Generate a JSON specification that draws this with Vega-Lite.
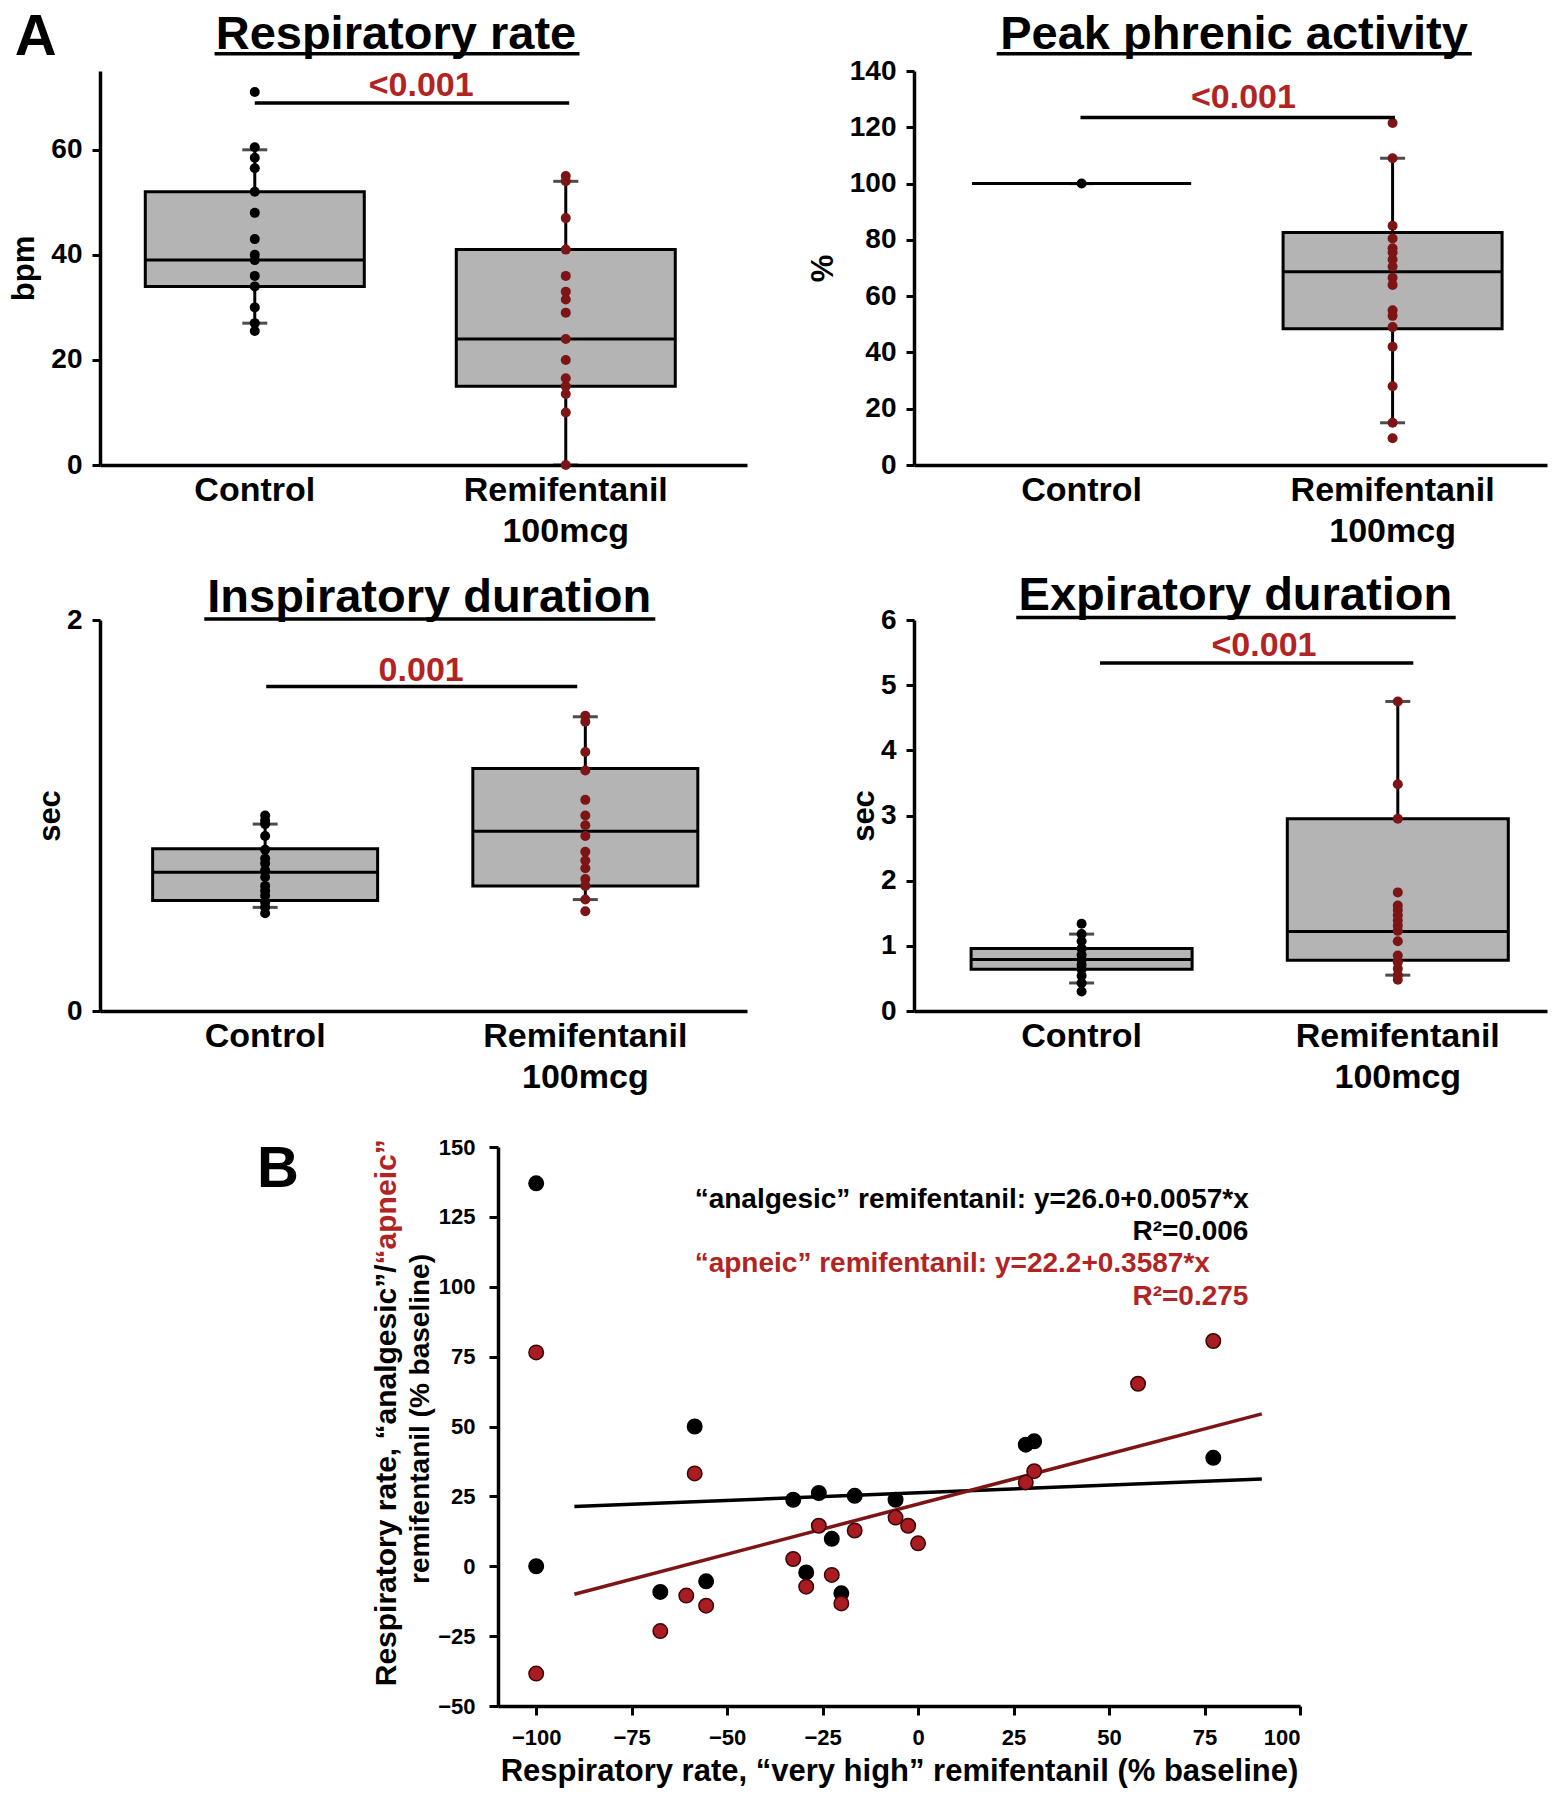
{
  "$schema": "https://vega.github.io/schema/vega-lite/v6.json",
  "background": "white",
  "padding": {"left": 8, "top": 8, "right": 5, "bottom": 5},
  "datasets": {
    "boxes": [
      {"panel": "rr", "group": "Control", "lo": 27, "q1": 34, "med": 39, "q3": 52, "hi": 60},
      {"panel": "rr", "group": "Remifentanil 100mcg", "lo": 0, "q1": 15, "med": 24, "q3": 41, "hi": 54},
      {"panel": "pp", "group": "Control", "lo": 100, "q1": 100, "med": 100, "q3": 100, "hi": 100},
      {"panel": "pp", "group": "Remifentanil 100mcg", "lo": 15, "q1": 48.4, "med": 68.7, "q3": 82.6, "hi": 109},
      {"panel": "ti", "group": "Control", "lo": 0.53, "q1": 0.565, "med": 0.71, "q3": 0.83, "hi": 0.956},
      {"panel": "ti", "group": "Remifentanil 100mcg", "lo": 0.57, "q1": 0.64, "med": 0.92, "q3": 1.24, "hi": 1.505},
      {"panel": "te", "group": "Control", "lo": 0.43, "q1": 0.64, "med": 0.79, "q3": 0.96, "hi": 1.18},
      {"panel": "te", "group": "Remifentanil 100mcg", "lo": 0.55, "q1": 0.78, "med": 1.22, "q3": 2.95, "hi": 4.75}
    ],
    "pts": [
      {"panel": "rr", "group": "Control", "value": 71},
      {"panel": "rr", "group": "Control", "value": 60.5},
      {"panel": "rr", "group": "Control", "value": 58.5},
      {"panel": "rr", "group": "Control", "value": 56.5},
      {"panel": "rr", "group": "Control", "value": 52},
      {"panel": "rr", "group": "Control", "value": 48},
      {"panel": "rr", "group": "Control", "value": 43},
      {"panel": "rr", "group": "Control", "value": 40},
      {"panel": "rr", "group": "Control", "value": 39},
      {"panel": "rr", "group": "Control", "value": 36},
      {"panel": "rr", "group": "Control", "value": 34},
      {"panel": "rr", "group": "Control", "value": 30},
      {"panel": "rr", "group": "Control", "value": 27},
      {"panel": "rr", "group": "Control", "value": 25.5},
      {"panel": "rr", "group": "Remifentanil 100mcg", "value": 55},
      {"panel": "rr", "group": "Remifentanil 100mcg", "value": 54},
      {"panel": "rr", "group": "Remifentanil 100mcg", "value": 47},
      {"panel": "rr", "group": "Remifentanil 100mcg", "value": 41},
      {"panel": "rr", "group": "Remifentanil 100mcg", "value": 36},
      {"panel": "rr", "group": "Remifentanil 100mcg", "value": 33},
      {"panel": "rr", "group": "Remifentanil 100mcg", "value": 31.5},
      {"panel": "rr", "group": "Remifentanil 100mcg", "value": 29},
      {"panel": "rr", "group": "Remifentanil 100mcg", "value": 24},
      {"panel": "rr", "group": "Remifentanil 100mcg", "value": 20},
      {"panel": "rr", "group": "Remifentanil 100mcg", "value": 16.5},
      {"panel": "rr", "group": "Remifentanil 100mcg", "value": 15},
      {"panel": "rr", "group": "Remifentanil 100mcg", "value": 13.5},
      {"panel": "rr", "group": "Remifentanil 100mcg", "value": 10},
      {"panel": "rr", "group": "Remifentanil 100mcg", "value": 0},
      {"panel": "pp", "group": "Control", "value": 100},
      {"panel": "pp", "group": "Remifentanil 100mcg", "value": 121.5},
      {"panel": "pp", "group": "Remifentanil 100mcg", "value": 109},
      {"panel": "pp", "group": "Remifentanil 100mcg", "value": 85},
      {"panel": "pp", "group": "Remifentanil 100mcg", "value": 80.5},
      {"panel": "pp", "group": "Remifentanil 100mcg", "value": 77},
      {"panel": "pp", "group": "Remifentanil 100mcg", "value": 75.5},
      {"panel": "pp", "group": "Remifentanil 100mcg", "value": 73},
      {"panel": "pp", "group": "Remifentanil 100mcg", "value": 70.5},
      {"panel": "pp", "group": "Remifentanil 100mcg", "value": 66.5},
      {"panel": "pp", "group": "Remifentanil 100mcg", "value": 64},
      {"panel": "pp", "group": "Remifentanil 100mcg", "value": 55},
      {"panel": "pp", "group": "Remifentanil 100mcg", "value": 53},
      {"panel": "pp", "group": "Remifentanil 100mcg", "value": 49},
      {"panel": "pp", "group": "Remifentanil 100mcg", "value": 42},
      {"panel": "pp", "group": "Remifentanil 100mcg", "value": 28},
      {"panel": "pp", "group": "Remifentanil 100mcg", "value": 15},
      {"panel": "pp", "group": "Remifentanil 100mcg", "value": 9.5},
      {"panel": "ti", "group": "Control", "value": 1.0},
      {"panel": "ti", "group": "Control", "value": 0.975},
      {"panel": "ti", "group": "Control", "value": 0.956},
      {"panel": "ti", "group": "Control", "value": 0.895},
      {"panel": "ti", "group": "Control", "value": 0.825},
      {"panel": "ti", "group": "Control", "value": 0.78},
      {"panel": "ti", "group": "Control", "value": 0.755},
      {"panel": "ti", "group": "Control", "value": 0.72},
      {"panel": "ti", "group": "Control", "value": 0.685},
      {"panel": "ti", "group": "Control", "value": 0.64},
      {"panel": "ti", "group": "Control", "value": 0.615},
      {"panel": "ti", "group": "Control", "value": 0.59},
      {"panel": "ti", "group": "Control", "value": 0.555},
      {"panel": "ti", "group": "Control", "value": 0.53},
      {"panel": "ti", "group": "Control", "value": 0.5},
      {"panel": "ti", "group": "Remifentanil 100mcg", "value": 1.51},
      {"panel": "ti", "group": "Remifentanil 100mcg", "value": 1.48},
      {"panel": "ti", "group": "Remifentanil 100mcg", "value": 1.325},
      {"panel": "ti", "group": "Remifentanil 100mcg", "value": 1.23},
      {"panel": "ti", "group": "Remifentanil 100mcg", "value": 1.08},
      {"panel": "ti", "group": "Remifentanil 100mcg", "value": 1.0},
      {"panel": "ti", "group": "Remifentanil 100mcg", "value": 0.95},
      {"panel": "ti", "group": "Remifentanil 100mcg", "value": 0.895},
      {"panel": "ti", "group": "Remifentanil 100mcg", "value": 0.815},
      {"panel": "ti", "group": "Remifentanil 100mcg", "value": 0.77},
      {"panel": "ti", "group": "Remifentanil 100mcg", "value": 0.73},
      {"panel": "ti", "group": "Remifentanil 100mcg", "value": 0.675},
      {"panel": "ti", "group": "Remifentanil 100mcg", "value": 0.64},
      {"panel": "ti", "group": "Remifentanil 100mcg", "value": 0.57},
      {"panel": "ti", "group": "Remifentanil 100mcg", "value": 0.51},
      {"panel": "te", "group": "Control", "value": 1.34},
      {"panel": "te", "group": "Control", "value": 1.18},
      {"panel": "te", "group": "Control", "value": 1.07},
      {"panel": "te", "group": "Control", "value": 0.96},
      {"panel": "te", "group": "Control", "value": 0.86},
      {"panel": "te", "group": "Control", "value": 0.79},
      {"panel": "te", "group": "Control", "value": 0.71},
      {"panel": "te", "group": "Control", "value": 0.64},
      {"panel": "te", "group": "Control", "value": 0.54},
      {"panel": "te", "group": "Control", "value": 0.43},
      {"panel": "te", "group": "Control", "value": 0.3},
      {"panel": "te", "group": "Remifentanil 100mcg", "value": 4.75},
      {"panel": "te", "group": "Remifentanil 100mcg", "value": 3.48},
      {"panel": "te", "group": "Remifentanil 100mcg", "value": 2.95},
      {"panel": "te", "group": "Remifentanil 100mcg", "value": 1.82},
      {"panel": "te", "group": "Remifentanil 100mcg", "value": 1.62},
      {"panel": "te", "group": "Remifentanil 100mcg", "value": 1.55},
      {"panel": "te", "group": "Remifentanil 100mcg", "value": 1.47},
      {"panel": "te", "group": "Remifentanil 100mcg", "value": 1.39},
      {"panel": "te", "group": "Remifentanil 100mcg", "value": 1.31},
      {"panel": "te", "group": "Remifentanil 100mcg", "value": 1.23},
      {"panel": "te", "group": "Remifentanil 100mcg", "value": 1.07},
      {"panel": "te", "group": "Remifentanil 100mcg", "value": 0.85},
      {"panel": "te", "group": "Remifentanil 100mcg", "value": 0.75},
      {"panel": "te", "group": "Remifentanil 100mcg", "value": 0.65},
      {"panel": "te", "group": "Remifentanil 100mcg", "value": 0.55},
      {"panel": "te", "group": "Remifentanil 100mcg", "value": 0.48}
    ],
    "scatter": [
      {"cond": "analgesic", "vh": -100, "y": 137},
      {"cond": "analgesic", "vh": -100, "y": 0},
      {"cond": "analgesic", "vh": -58.5, "y": 50},
      {"cond": "analgesic", "vh": -67.5, "y": -9.2},
      {"cond": "analgesic", "vh": -55.5, "y": -5.4},
      {"cond": "analgesic", "vh": -32.7, "y": 23.8},
      {"cond": "analgesic", "vh": -26, "y": 26.2},
      {"cond": "analgesic", "vh": -16.6, "y": 25.2},
      {"cond": "analgesic", "vh": -5.9, "y": 23.8},
      {"cond": "analgesic", "vh": -29.3, "y": -2.2},
      {"cond": "analgesic", "vh": -22.6, "y": 9.8},
      {"cond": "analgesic", "vh": -20.1, "y": -9.7},
      {"cond": "analgesic", "vh": 28.2, "y": 43.5},
      {"cond": "analgesic", "vh": 30.4, "y": 44.7},
      {"cond": "analgesic", "vh": 77.3, "y": 38.8},
      {"cond": "apneic", "vh": -100, "y": 76.5},
      {"cond": "apneic", "vh": -100, "y": -38.4},
      {"cond": "apneic", "vh": -58.5, "y": 33.2},
      {"cond": "apneic", "vh": -67.5, "y": -23.2},
      {"cond": "apneic", "vh": -60.7, "y": -10.5},
      {"cond": "apneic", "vh": -55.5, "y": -14.1},
      {"cond": "apneic", "vh": -32.7, "y": 2.6},
      {"cond": "apneic", "vh": -29.3, "y": -7.3},
      {"cond": "apneic", "vh": -26, "y": 14.5},
      {"cond": "apneic", "vh": -22.6, "y": -3.1},
      {"cond": "apneic", "vh": -20.1, "y": -13.3},
      {"cond": "apneic", "vh": -16.6, "y": 12.8},
      {"cond": "apneic", "vh": -5.9, "y": 17.4},
      {"cond": "apneic", "vh": -2.6, "y": 14.5},
      {"cond": "apneic", "vh": 0, "y": 8.2},
      {"cond": "apneic", "vh": 28.2, "y": 30},
      {"cond": "apneic", "vh": 30.4, "y": 34},
      {"cond": "apneic", "vh": 57.6, "y": 65.3},
      {"cond": "apneic", "vh": 77.3, "y": 80.6}
    ],
    "reg": [
      {"cond": "analgesic", "vh": -90, "y": 21.4},
      {"cond": "analgesic", "vh": 90, "y": 31.2},
      {"cond": "apneic", "vh": -90, "y": -10},
      {"cond": "apneic", "vh": 90, "y": 54.5}
    ]
  },
  "vconcat": [
    {
      "columns": 2,
      "spacing": {"row": 24, "column": 60},
      "concat": [
        {
          "width": 647, "height": 394,
          "resolve": {"scale": {"x": "independent"}},
          "layer": [
            {
              "data": {"name": "boxes"},
              "transform": [{"filter": "datum.panel == 'rr'"}],
              "layer": [
                {"mark": {"type": "rule", "strokeWidth": 3, "color": "#000"},
                 "encoding": {
                   "x": {"field": "group", "type": "nominal", "scale": {"domain": ["Control", "Remifentanil 100mcg"], "paddingInner": 0.2958, "paddingOuter": 0.1881, "align": 0.387},
                         "axis": {"title": null, "ticks": false, "domainWidth": 3.5, "labelFontSize": 34, "labelPadding": 8, "labelLineHeight": 41, "labelAngle": 0, "labelLimit": 500, "labelExpr": "split(datum.label, ' ')"}},
                   "y": {"field": "lo", "type": "quantitative", "scale": {"domain": [0, 75], "nice": false},
                         "axis": {"title": "bpm", "values": [0, 20, 40, 60], "titleFontSize": 31, "titlePadding": 10, "labelFontSize": 28, "labelPadding": 10, "tickSize": 8, "tickWidth": 3, "domainWidth": 3.5}},
                   "y2": {"field": "hi"}}},
                {"mark": {"type": "bar", "fill": "#b4b4b4", "stroke": "#000", "strokeWidth": 3},
                 "encoding": {"x": {"field": "group", "type": "nominal"}, "y": {"field": "q1", "type": "quantitative"}, "y2": {"field": "q3"}}},
                {"mark": {"type": "bar", "fill": "transparent", "stroke": "#000", "strokeWidth": 3},
                 "encoding": {"x": {"field": "group", "type": "nominal"}, "y": {"field": "med", "type": "quantitative"}, "y2": {"field": "med"}}},
                {"mark": {"type": "tick", "size": 25, "thickness": 3, "color": "#000"},
                 "encoding": {"x": {"field": "group", "type": "nominal"}, "y": {"field": "lo", "type": "quantitative"}}},
                {"mark": {"type": "tick", "size": 25, "thickness": 3, "color": "#000"},
                 "encoding": {"x": {"field": "group", "type": "nominal"}, "y": {"field": "hi", "type": "quantitative"}}},
                {"data": {"name": "pts"}, "transform": [{"filter": "datum.panel == 'rr'"}],
                 "mark": {"type": "circle", "size": 100, "opacity": 1},
                 "encoding": {"x": {"field": "group", "type": "nominal"}, "y": {"field": "value", "type": "quantitative"},
                   "color": {"field": "group", "type": "nominal", "scale": {"domain": ["Control", "Remifentanil 100mcg"], "range": ["#000000", "#7d1416"]}, "legend": null}}}
              ]
            },
            {"data": {"values": [{}]}, "mark": {"type": "text", "text": "A", "fontSize": 58, "fontWeight": "bold", "align": "center", "baseline": "alphabetic", "color": "#000"},
             "encoding": {"x": {"datum": -0.0995, "type": "quantitative", "scale": {"domain": [0, 1]}, "axis": null}, "y": {"datum": 78.05, "type": "quantitative"}}},
            {"data": {"values": [{}]}, "mark": {"type": "text", "text": "Respiratory rate", "fontSize": 47, "fontWeight": "bold", "align": "center", "baseline": "alphabetic", "color": "#000"},
             "encoding": {"x": {"datum": 0.4574, "type": "quantitative", "scale": {"domain": [0, 1]}, "axis": null}, "y": {"datum": 79.15, "type": "quantitative"}}},
            {"data": {"values": [{}]}, "mark": {"type": "rule", "strokeWidth": 3.5, "color": "#000"},
             "encoding": {"x": {"datum": 0.1771, "type": "quantitative", "scale": {"domain": [0, 1]}, "axis": null}, "x2": {"datum": 0.7411}, "y": {"datum": 78.27, "type": "quantitative"}}},
            {"data": {"values": [{}]}, "mark": {"type": "rule", "strokeWidth": 3.5, "color": "#000"},
             "encoding": {"x": {"datum": 0.2392, "type": "quantitative", "scale": {"domain": [0, 1]}, "axis": null}, "x2": {"datum": 0.7252}, "y": {"datum": 68.9, "type": "quantitative"}}},
            {"data": {"values": [{}]}, "mark": {"type": "text", "text": "<0.001", "fontSize": 34, "fontWeight": "bold", "align": "center", "baseline": "alphabetic", "color": "#b22424"},
             "encoding": {"x": {"datum": 0.4964, "type": "quantitative", "scale": {"domain": [0, 1]}, "axis": null}, "y": {"datum": 70.3, "type": "quantitative"}}}
          ]
        },
        {
          "width": 633, "height": 394,
          "resolve": {"scale": {"x": "independent"}},
          "layer": [
            {
              "data": {"name": "boxes"},
              "transform": [{"filter": "datum.panel == 'pp'"}],
              "layer": [
                {"mark": {"type": "rule", "strokeWidth": 3, "color": "#000"},
                 "encoding": {
                   "x": {"field": "group", "type": "nominal", "scale": {"domain": ["Control", "Remifentanil 100mcg"], "paddingInner": 0.2958, "paddingOuter": 0.1656, "align": 0.564},
                         "axis": {"title": null, "ticks": false, "domainWidth": 3.5, "labelFontSize": 34, "labelPadding": 8, "labelLineHeight": 41, "labelAngle": 0, "labelLimit": 500, "labelExpr": "split(datum.label, ' ')"}},
                   "y": {"field": "lo", "type": "quantitative", "scale": {"domain": [0, 140], "nice": false},
                         "axis": {"title": "%", "values": [0, 20, 40, 60, 80, 100, 120, 140], "titleFontSize": 31, "titlePadding": 10, "labelFontSize": 28, "labelPadding": 10, "tickSize": 8, "tickWidth": 3, "domainWidth": 3.5}},
                   "y2": {"field": "hi"}}},
                {"mark": {"type": "bar", "fill": "#b4b4b4", "stroke": "#000", "strokeWidth": 3},
                 "encoding": {"x": {"field": "group", "type": "nominal"}, "y": {"field": "q1", "type": "quantitative"}, "y2": {"field": "q3"}}},
                {"mark": {"type": "bar", "fill": "transparent", "stroke": "#000", "strokeWidth": 3},
                 "encoding": {"x": {"field": "group", "type": "nominal"}, "y": {"field": "med", "type": "quantitative"}, "y2": {"field": "med"}}},
                {"mark": {"type": "tick", "size": 25, "thickness": 3, "color": "#000"},
                 "encoding": {"x": {"field": "group", "type": "nominal"}, "y": {"field": "lo", "type": "quantitative"}}},
                {"mark": {"type": "tick", "size": 25, "thickness": 3, "color": "#000"},
                 "encoding": {"x": {"field": "group", "type": "nominal"}, "y": {"field": "hi", "type": "quantitative"}}},
                {"data": {"name": "pts"}, "transform": [{"filter": "datum.panel == 'pp'"}],
                 "mark": {"type": "circle", "size": 100, "opacity": 1},
                 "encoding": {"x": {"field": "group", "type": "nominal"}, "y": {"field": "value", "type": "quantitative"},
                   "color": {"field": "group", "type": "nominal", "scale": {"domain": ["Control", "Remifentanil 100mcg"], "range": ["#000000", "#7d1416"]}, "legend": null}}}
              ]
            },
            {"data": {"values": [{}]}, "mark": {"type": "text", "text": "Peak phrenic activity", "fontSize": 47, "fontWeight": "bold", "align": "center", "baseline": "alphabetic", "color": "#000"},
             "encoding": {"x": {"datum": 0.5055, "type": "quantitative", "scale": {"domain": [0, 1]}, "axis": null}, "y": {"datum": 147.75, "type": "quantitative"}}},
            {"data": {"values": [{}]}, "mark": {"type": "rule", "strokeWidth": 3.5, "color": "#000"},
             "encoding": {"x": {"datum": 0.1306, "type": "quantitative", "scale": {"domain": [0, 1]}, "axis": null}, "x2": {"datum": 0.8812}, "y": {"datum": 146.1, "type": "quantitative"}}},
            {"data": {"values": [{}]}, "mark": {"type": "rule", "strokeWidth": 3.5, "color": "#000"},
             "encoding": {"x": {"datum": 0.263, "type": "quantitative", "scale": {"domain": [0, 1]}, "axis": null}, "x2": {"datum": 0.7597}, "y": {"datum": 123.5, "type": "quantitative"}}},
            {"data": {"values": [{}]}, "mark": {"type": "text", "text": "<0.001", "fontSize": 34, "fontWeight": "bold", "align": "center", "baseline": "alphabetic", "color": "#b22424"},
             "encoding": {"x": {"datum": 0.5204, "type": "quantitative", "scale": {"domain": [0, 1]}, "axis": null}, "y": {"datum": 126.8, "type": "quantitative"}}}
          ]
        },
        {
          "width": 647, "height": 391,
          "resolve": {"scale": {"x": "independent"}},
          "layer": [
            {
              "data": {"name": "boxes"},
              "transform": [{"filter": "datum.panel == 'ti'"}],
              "layer": [
                {"mark": {"type": "rule", "strokeWidth": 3, "color": "#000"},
                 "encoding": {
                   "x": {"field": "group", "type": "nominal", "scale": {"domain": ["Control", "Remifentanil 100mcg"], "paddingInner": 0.2973, "paddingOuter": 0.159, "align": 0.517},
                         "axis": {"title": null, "ticks": false, "domainWidth": 3.5, "labelFontSize": 34, "labelPadding": 8, "labelLineHeight": 41, "labelAngle": 0, "labelLimit": 500, "labelExpr": "split(datum.label, ' ')"}},
                   "y": {"field": "lo", "type": "quantitative", "scale": {"domain": [0, 2], "nice": false},
                         "axis": {"title": "sec", "values": [0, 1, 2], "format": "d", "titleFontSize": 31, "titlePadding": 0, "labelFontSize": 28, "labelPadding": 10, "tickSize": 8, "tickWidth": 3, "domainWidth": 3.5}},
                   "y2": {"field": "hi"}}},
                {"mark": {"type": "bar", "fill": "#b4b4b4", "stroke": "#000", "strokeWidth": 3},
                 "encoding": {"x": {"field": "group", "type": "nominal"}, "y": {"field": "q1", "type": "quantitative"}, "y2": {"field": "q3"}}},
                {"mark": {"type": "bar", "fill": "transparent", "stroke": "#000", "strokeWidth": 3},
                 "encoding": {"x": {"field": "group", "type": "nominal"}, "y": {"field": "med", "type": "quantitative"}, "y2": {"field": "med"}}},
                {"mark": {"type": "tick", "size": 25, "thickness": 3, "color": "#000"},
                 "encoding": {"x": {"field": "group", "type": "nominal"}, "y": {"field": "lo", "type": "quantitative"}}},
                {"mark": {"type": "tick", "size": 25, "thickness": 3, "color": "#000"},
                 "encoding": {"x": {"field": "group", "type": "nominal"}, "y": {"field": "hi", "type": "quantitative"}}},
                {"data": {"name": "pts"}, "transform": [{"filter": "datum.panel == 'ti'"}],
                 "mark": {"type": "circle", "size": 100, "opacity": 1},
                 "encoding": {"x": {"field": "group", "type": "nominal"}, "y": {"field": "value", "type": "quantitative"},
                   "color": {"field": "group", "type": "nominal", "scale": {"domain": ["Control", "Remifentanil 100mcg"], "range": ["#000000", "#7d1416"]}, "legend": null}}}
              ]
            },
            {"data": {"values": [{}]}, "mark": {"type": "text", "text": "Inspiratory duration", "fontSize": 47, "fontWeight": "bold", "align": "center", "baseline": "alphabetic", "color": "#000"},
             "encoding": {"x": {"datum": 0.5088, "type": "quantitative", "scale": {"domain": [0, 1]}, "axis": null}, "y": {"datum": 2.04, "type": "quantitative"}}},
            {"data": {"values": [{}]}, "mark": {"type": "rule", "strokeWidth": 3.5, "color": "#000"},
             "encoding": {"x": {"datum": 0.1612, "type": "quantitative", "scale": {"domain": [0, 1]}, "axis": null}, "x2": {"datum": 0.8583}, "y": {"datum": 2.005, "type": "quantitative"}}},
            {"data": {"values": [{}]}, "mark": {"type": "rule", "strokeWidth": 3.5, "color": "#000"},
             "encoding": {"x": {"datum": 0.2569, "type": "quantitative", "scale": {"domain": [0, 1]}, "axis": null}, "x2": {"datum": 0.7376}, "y": {"datum": 1.66, "type": "quantitative"}}},
            {"data": {"values": [{}]}, "mark": {"type": "text", "text": "0.001", "fontSize": 34, "fontWeight": "bold", "align": "center", "baseline": "alphabetic", "color": "#b22424"},
             "encoding": {"x": {"datum": 0.4964, "type": "quantitative", "scale": {"domain": [0, 1]}, "axis": null}, "y": {"datum": 1.69, "type": "quantitative"}}}
          ]
        },
        {
          "width": 633, "height": 391,
          "resolve": {"scale": {"x": "independent"}},
          "layer": [
            {
              "data": {"name": "boxes"},
              "transform": [{"filter": "datum.panel == 'te'"}],
              "layer": [
                {"mark": {"type": "rule", "strokeWidth": 3, "color": "#000"},
                 "encoding": {
                   "x": {"field": "group", "type": "nominal", "scale": {"domain": ["Control", "Remifentanil 100mcg"], "paddingInner": 0.3011, "paddingOuter": 0.1515, "align": 0.596},
                         "axis": {"title": null, "ticks": false, "domainWidth": 3.5, "labelFontSize": 34, "labelPadding": 8, "labelLineHeight": 41, "labelAngle": 0, "labelLimit": 500, "labelExpr": "split(datum.label, ' ')"}},
                   "y": {"field": "lo", "type": "quantitative", "scale": {"domain": [0, 6], "nice": false},
                         "axis": {"title": "sec", "values": [0, 1, 2, 3, 4, 5, 6], "format": "d", "titleFontSize": 31, "titlePadding": 0, "labelFontSize": 28, "labelPadding": 10, "tickSize": 8, "tickWidth": 3, "domainWidth": 3.5}},
                   "y2": {"field": "hi"}}},
                {"mark": {"type": "bar", "fill": "#b4b4b4", "stroke": "#000", "strokeWidth": 3},
                 "encoding": {"x": {"field": "group", "type": "nominal"}, "y": {"field": "q1", "type": "quantitative"}, "y2": {"field": "q3"}}},
                {"mark": {"type": "bar", "fill": "transparent", "stroke": "#000", "strokeWidth": 3},
                 "encoding": {"x": {"field": "group", "type": "nominal"}, "y": {"field": "med", "type": "quantitative"}, "y2": {"field": "med"}}},
                {"mark": {"type": "tick", "size": 25, "thickness": 3, "color": "#000"},
                 "encoding": {"x": {"field": "group", "type": "nominal"}, "y": {"field": "lo", "type": "quantitative"}}},
                {"mark": {"type": "tick", "size": 25, "thickness": 3, "color": "#000"},
                 "encoding": {"x": {"field": "group", "type": "nominal"}, "y": {"field": "hi", "type": "quantitative"}}},
                {"data": {"name": "pts"}, "transform": [{"filter": "datum.panel == 'te'"}],
                 "mark": {"type": "circle", "size": 100, "opacity": 1},
                 "encoding": {"x": {"field": "group", "type": "nominal"}, "y": {"field": "value", "type": "quantitative"},
                   "color": {"field": "group", "type": "nominal", "scale": {"domain": ["Control", "Remifentanil 100mcg"], "range": ["#000000", "#7d1416"]}, "legend": null}}}
              ]
            },
            {"data": {"values": [{}]}, "mark": {"type": "text", "text": "Expiratory duration", "fontSize": 47, "fontWeight": "bold", "align": "center", "baseline": "alphabetic", "color": "#000"},
             "encoding": {"x": {"datum": 0.5077, "type": "quantitative", "scale": {"domain": [0, 1]}, "axis": null}, "y": {"datum": 6.147, "type": "quantitative"}}},
            {"data": {"values": [{}]}, "mark": {"type": "rule", "strokeWidth": 3.5, "color": "#000"},
             "encoding": {"x": {"datum": 0.1615, "type": "quantitative", "scale": {"domain": [0, 1]}, "axis": null}, "x2": {"datum": 0.8558}, "y": {"datum": 6.04, "type": "quantitative"}}},
            {"data": {"values": [{}]}, "mark": {"type": "rule", "strokeWidth": 3.5, "color": "#000"},
             "encoding": {"x": {"datum": 0.2938, "type": "quantitative", "scale": {"domain": [0, 1]}, "axis": null}, "x2": {"datum": 0.7888}, "y": {"datum": 5.34, "type": "quantitative"}}},
            {"data": {"values": [{}]}, "mark": {"type": "text", "text": "<0.001", "fontSize": 34, "fontWeight": "bold", "align": "center", "baseline": "alphabetic", "color": "#b22424"},
             "encoding": {"x": {"datum": 0.5529, "type": "quantitative", "scale": {"domain": [0, 1]}, "axis": null}, "y": {"datum": 5.45, "type": "quantitative"}}}
          ]
        }
      ]
    },
    {
      "spacing": 0,
      "hconcat": [
        {"width": 157, "height": 559, "data": {"values": []}, "mark": {"type": "point", "opacity": 0}, "encoding": {}},
        {
          "width": 802, "height": 559,
          "layer": [
            {"data": {"name": "reg"},
             "mark": {"type": "line", "strokeWidth": 3.5},
             "encoding": {
               "x": {"field": "vh", "type": "quantitative", "scale": {"domain": [-110, 100], "nice": false, "zero": false},
                     "axis": {"title": "Respiratory rate, “very high” remifentanil (% baseline)", "values": [-100, -75, -50, -25, 0, 25, 50, 75, 100], "labelFontSize": 22, "labelPadding": 12, "tickSize": 9, "tickWidth": 3, "domainWidth": 3.5, "titleFontSize": 31, "titlePadding": 8}},
               "y": {"field": "y", "type": "quantitative", "scale": {"domain": [-50, 150], "nice": false, "zero": false},
                     "axis": {"title": null, "values": [-50, -25, 0, 25, 50, 75, 100, 125, 150], "labelFontSize": 22, "labelPadding": 14, "tickSize": 9, "tickWidth": 3, "domainWidth": 3.5}},
               "color": {"field": "cond", "type": "nominal", "scale": {"domain": ["analgesic", "apneic"], "range": ["#000000", "#dd2424"]}, "legend": null}}},
            {"data": {"name": "scatter"},
             "mark": {"type": "circle", "size": 210, "opacity": 1, "strokeWidth": 1.5},
             "encoding": {
               "x": {"field": "vh", "type": "quantitative"},
               "y": {"field": "y", "type": "quantitative"},
               "fill": {"field": "cond", "type": "nominal", "scale": {"domain": ["analgesic", "apneic"], "range": ["#000000", "#a81c22"]}, "legend": null},
               "stroke": {"field": "cond", "type": "nominal", "scale": {"domain": ["analgesic", "apneic"], "range": ["#000000", "#3a0505"]}, "legend": null}}},
            {"data": {"values": [{}]}, "mark": {"type": "text", "text": "B", "fontSize": 58, "fontWeight": "bold", "align": "center", "baseline": "alphabetic", "color": "#000"},
             "encoding": {"x": {"datum": -167.6, "type": "quantitative"}, "y": {"datum": 135.6, "type": "quantitative"}}},
            {"data": {"values": [{}]}, "mark": {"type": "text", "text": "Respiratory rate, “analgesic”/", "fontSize": 30, "fontWeight": "bold", "angle": 270, "align": "right", "baseline": "middle", "color": "#000"},
             "encoding": {"x": {"datum": -139.1, "type": "quantitative"}, "y": {"datum": 108, "type": "quantitative"}}},
            {"data": {"values": [{}]}, "mark": {"type": "text", "text": "“apneic”", "fontSize": 30, "fontWeight": "bold", "angle": 270, "align": "left", "baseline": "middle", "color": "#b22424"},
             "encoding": {"x": {"datum": -139.1, "type": "quantitative"}, "y": {"datum": 108, "type": "quantitative"}}},
            {"data": {"values": [{}]}, "mark": {"type": "text", "text": "remifentanil     (% baseline)", "fontSize": 28, "fontWeight": "bold", "angle": 270, "align": "center", "baseline": "middle", "color": "#000"},
             "encoding": {"x": {"datum": -130.1, "type": "quantitative"}, "y": {"datum": 52.7, "type": "quantitative"}}},
            {"data": {"values": [{}]}, "mark": {"type": "text", "text": "“analgesic” remifentanil: y=26.0+0.0057*x", "fontSize": 28, "fontWeight": "bold", "align": "left", "baseline": "alphabetic", "color": "#000"},
             "encoding": {"x": {"datum": -58.5, "type": "quantitative"}, "y": {"datum": 128.3, "type": "quantitative"}}},
            {"data": {"values": [{}]}, "mark": {"type": "text", "text": "R²=0.006", "fontSize": 28, "fontWeight": "bold", "align": "right", "baseline": "alphabetic", "color": "#000"},
             "encoding": {"x": {"datum": 86.5, "type": "quantitative"}, "y": {"datum": 116.7, "type": "quantitative"}}},
            {"data": {"values": [{}]}, "mark": {"type": "text", "text": "“apneic” remifentanil: y=22.2+0.3587*x", "fontSize": 28, "fontWeight": "bold", "align": "left", "baseline": "alphabetic", "color": "#b22424"},
             "encoding": {"x": {"datum": -58.5, "type": "quantitative"}, "y": {"datum": 105.1, "type": "quantitative"}}},
            {"data": {"values": [{}]}, "mark": {"type": "text", "text": "R²=0.275", "fontSize": 28, "fontWeight": "bold", "align": "right", "baseline": "alphabetic", "color": "#b22424"},
             "encoding": {"x": {"datum": 86.5, "type": "quantitative"}, "y": {"datum": 93.5, "type": "quantitative"}}}
          ]
        }
      ]
    }
  ],
  "spacing": 42,
  "config": {
    "font": "Liberation Sans",
    "view": {"stroke": null},
    "axis": {"labelFont": "Liberation Sans", "titleFont": "Liberation Sans", "labelFontWeight": "bold", "titleFontWeight": "bold", "labelColor": "#000", "titleColor": "#000", "domainColor": "#000", "tickColor": "#000", "grid": false},
    "text": {"font": "Liberation Sans", "fontWeight": "bold"}
  }
}
